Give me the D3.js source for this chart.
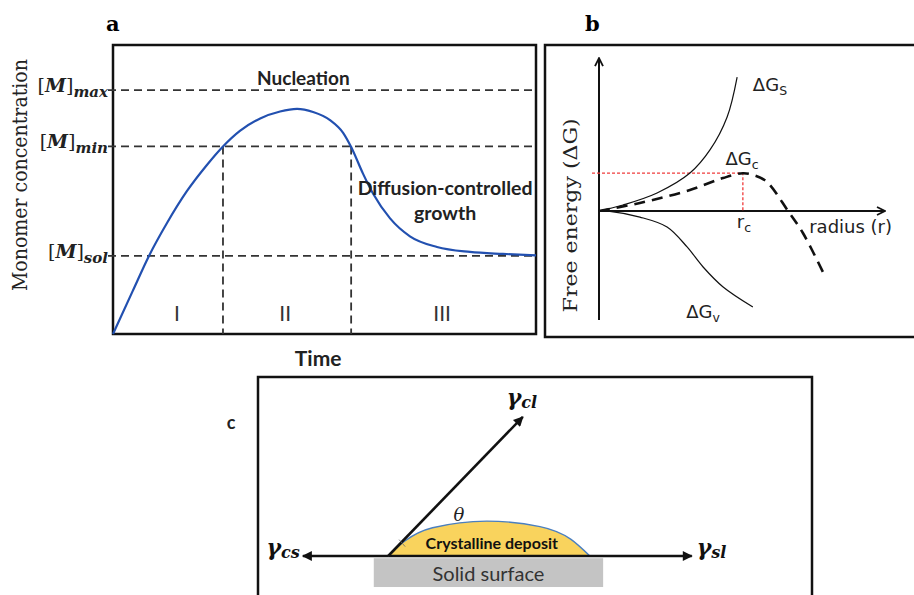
<!DOCTYPE html>
<html>
<head>
<meta charset="utf-8">
<script src="https://cdn.jsdelivr.net/npm/d3@7"></script>
<style>
body { margin: 0; background: #fff; }
svg { display: block; }
</style>
</head>
<body>
<svg width="914" height="595"></svg>
<script>
// --- panel a : monomer concentration vs time ---
var timeVals = [0, 4.7, 8.5, 12.8, 17.5, 22.2, 26.0, 30.0, 34.8, 39.5, 43.5, 47.3, 51.3, 54.4, 56.3, 59.1, 61.5, 65.5, 70.2, 76.6, 84.4, 92.2, 100]
var concVals = [0, 15.0, 27.0, 38.5, 49.5, 58.5, 64.9, 70.3, 74.6, 77.0, 77.9, 76.8, 74.0, 69.6, 64.7, 55.5, 48.5, 40.0, 33.8, 30.1, 28.4, 27.7, 27.2]
var levelNames = ['max', 'min', 'sol']
var levelVals = [84.4, 64.9, 27.0]
var stageEdges = [26.0, 56.3]
var stageNames = ['I', 'II', 'III']
var stageMids = [15.1, 40.7, 77.8]

// --- panel b : free energy vs radius ---
var rS = [0, 8.4, 20.3, 31.8, 38.8, 44.8, 48.3]
var gS = [0, 5.5, 16.4, 34.5, 55.5, 85.5, 121.8]
var rV = [0, 3.8, 14.3, 23.8, 30.8, 36.4, 43.4, 53.8]
var gV = [0, -0.3, -5.5, -14.5, -32.7, -50.9, -69.1, -87.3]
var rC = [0, 14.3, 31.8, 43.4, 50.3, 54.5, 58.7, 66.1, 71.3, 78.3]
var gC = [0, 7.3, 19.1, 30.0, 34.3, 32.3, 26.5, 0, -20, -55.5]
var rCrit = 50.3
var gCrit = 34.5

// --- panel c : contact angle ---
var contactX = 23.5
var vecNames = ['cs', 'sl', 'cl']
var vecTipX = [8.1, 78.3, 47.8]
var vecTipY = [0, 0, 25.1]
var domeX = [23.5, 26.5, 31.5, 41.3, 50.9, 56.5, 59.9]
var domeY = [0, 2.7, 5.1, 6.3, 5.3, 3.0, 0]
var surfaceX = [20.9, 62.3]
var surfaceY = [-0.4, -5.6]

var svg = d3.select('svg')
var ink = '#111'

function font (sel, family, size, weight, style) {
  return sel.attr('font-family', family).attr('font-size', size)
    .attr('font-weight', weight || 'normal').attr('font-style', style || 'normal')
}

var defs = svg.append('defs')
defs.append('marker').attr('id', 'open')
    .attr('viewBox', '0 0 10 10').attr('refX', 9).attr('refY', 5)
    .attr('markerWidth', 10).attr('markerHeight', 10)
    .attr('markerUnits', 'userSpaceOnUse').attr('orient', 'auto')
  .append('path').attr('d', 'M1,1 L9,5 L1,9')
    .attr('fill', 'none').attr('stroke', ink).attr('stroke-width', 1.8)
defs.append('marker').attr('id', 'solid')
    .attr('viewBox', '0 0 10 10').attr('refX', 9).attr('refY', 5)
    .attr('markerWidth', 12).attr('markerHeight', 10)
    .attr('markerUnits', 'userSpaceOnUse').attr('orient', 'auto')
  .append('path').attr('d', 'M0,0 L10,5 L0,10 Z').attr('fill', ink)

// ================= panel a =================
var xA = d3.scaleLinear().domain([0, 100]).range([113, 536])
var yA = d3.scaleLinear().domain([0, 100]).range([334, 45])

var ga = svg.append('g')

font(ga.append('text').attr('x', 106).attr('y', 31).text('a'), 'DejaVu Serif', 21, 'bold')

ga.append('rect').attr('x', xA(0)).attr('y', yA(100))
    .attr('width', xA(100) - xA(0)).attr('height', yA(0) - yA(100))
    .attr('fill', 'none').attr('stroke', ink).attr('stroke-width', 2.5)

levelVals.forEach(function (v, i) {
  ga.append('line')
    .attr('x1', xA(0) - 5).attr('x2', xA(100))
    .attr('y1', yA(v)).attr('y2', yA(v))
    .attr('stroke', '#333').attr('stroke-width', 1.8).attr('stroke-dasharray', '8,5')
  var t = font(ga.append('text').attr('x', xA(0) - 5).attr('y', yA(v) + 2)
      .attr('text-anchor', 'end').attr('fill', '#222'), 'DejaVu Serif', 19)
  t.append('tspan').text('[')
  t.append('tspan').text('M').attr('font-weight', 'bold').attr('font-style', 'italic')
  t.append('tspan').text(']')
  t.append('tspan').text(levelNames[i]).attr('dy', 5)
    .attr('font-size', 15).attr('font-weight', 'bold').attr('font-style', 'italic')
})

stageEdges.forEach(function (t) {
  ga.append('line')
    .attr('x1', xA(t)).attr('x2', xA(t))
    .attr('y1', yA(levelVals[1])).attr('y2', yA(0))
    .attr('stroke', '#333').attr('stroke-width', 1.8).attr('stroke-dasharray', '8,5')
})

stageNames.forEach(function (s, i) {
  font(ga.append('text').attr('x', xA(stageMids[i])).attr('y', yA(7.3) + 8)
    .attr('text-anchor', 'middle').text(s).attr('fill', '#333'), 'Lato', 21)
})

var lineA = d3.line()
  .x(function (d, i) { return xA(timeVals[i]) })
  .y(function (d) { return yA(d) })
  .curve(d3.curveMonotoneX)

ga.append('path').datum(concVals).attr('d', lineA)
  .attr('fill', 'none').attr('stroke', '#2250b0').attr('stroke-width', 2.2)

font(ga.append('text').attr('x', xA(45)).attr('y', yA(88.5) + 7)
  .attr('text-anchor', 'middle').text('Nucleation').attr('fill', '#222'), 'Lato', 19, 'bold')
font(ga.append('text').attr('x', xA(78.5)).attr('y', yA(50.5) + 7)
  .attr('text-anchor', 'middle').text('Diffusion-controlled').attr('fill', '#222'), 'Lato', 19.5, 'bold')
font(ga.append('text').attr('x', xA(78.5)).attr('y', yA(41.7) + 7)
  .attr('text-anchor', 'middle').text('growth').attr('fill', '#222'), 'Lato', 19.5, 'bold')

font(ga.append('text').attr('x', xA(48.5)).attr('y', 366)
  .attr('text-anchor', 'middle').text('Time').attr('fill', '#222'), 'Lato', 21, 'bold')

font(ga.append('text')
  .attr('transform', 'translate(27,' + yA(55) + ') rotate(-90)')
  .attr('text-anchor', 'middle').text('Monomer concentration')
  .attr('textLength', 232).attr('lengthAdjust', 'spacingAndGlyphs')
  .attr('fill', '#222'), 'DejaVu Serif', 20)

// ================= panel b =================
var xB = d3.scaleLinear().domain([0, 100]).range([599, 885])
var yB = d3.scaleLinear().domain([-100, 100]).range([321, 101])

var gb = svg.append('g')

font(gb.append('text').attr('x', 585).attr('y', 31).text('b'), 'DejaVu Serif', 21, 'bold')

gb.append('rect').attr('x', 545).attr('y', 45).attr('width', 400).attr('height', 292)
  .attr('fill', 'none').attr('stroke', ink).attr('stroke-width', 2.5)

gb.append('line').attr('x1', xB(0)).attr('x2', xB(0))
  .attr('y1', yB(-99)).attr('y2', yB(139))
  .attr('stroke', ink).attr('stroke-width', 2).attr('marker-end', 'url(#open)')
gb.append('line').attr('x1', xB(0)).attr('x2', xB(100))
  .attr('y1', yB(0)).attr('y2', yB(0))
  .attr('stroke', ink).attr('stroke-width', 2).attr('marker-end', 'url(#open)')

// critical point guides
gb.append('path')
  .attr('d', 'M' + (xB(0) - 7) + ',' + yB(gCrit) + 'H' + xB(rCrit) + 'V' + yB(0))
  .attr('fill', 'none').attr('stroke', '#f03c3c').attr('stroke-width', 1.3)
  .attr('stroke-dasharray', '3,2')

function lineB (rs) {
  return d3.line()
    .x(function (d, i) { return xB(rs[i]) })
    .y(function (d) { return yB(d) })
    .curve(d3.curveCatmullRom.alpha(0.5))
}

gb.append('path').datum(gS).attr('d', lineB(rS))
  .attr('fill', 'none').attr('stroke', ink).attr('stroke-width', 1.2)
gb.append('path').datum(gV).attr('d', lineB(rV))
  .attr('fill', 'none').attr('stroke', ink).attr('stroke-width', 1.2)
gb.append('path').datum(gC).attr('d', lineB(rC))
  .attr('fill', 'none').attr('stroke', ink).attr('stroke-width', 2.6)
  .attr('stroke-dasharray', '11,7')

function dgLabel (x, y, sub) {
  var t = font(gb.append('text').attr('x', x).attr('y', y).attr('fill', '#222'), 'DejaVu Sans', 18)
  t.append('tspan').text('ΔG')
  t.append('tspan').text(sub).attr('dy', 4).attr('font-size', 12.5)
}
dgLabel(xB(53.8), yB(109), 'S')
dgLabel(xB(44.2), yB(41.5), 'c')
dgLabel(xB(30.5), yB(-97), 'v')

var rcT = font(gb.append('text').attr('x', xB(rCrit) - 6).attr('y', yB(-15.5)).attr('fill', '#222'), 'DejaVu Sans', 18)
rcT.append('tspan').text('r')
rcT.append('tspan').text('c').attr('dy', 4).attr('font-size', 12.5)

font(gb.append('text').attr('x', xB(73.5)).attr('y', yB(-20))
  .text('radius (r)').attr('fill', '#222'), 'DejaVu Sans', 18)

font(gb.append('text')
  .attr('transform', 'translate(577,' + yB(-4) + ') rotate(-90)')
  .attr('text-anchor', 'middle').text('Free energy (ΔG)')
  .attr('textLength', 194).attr('lengthAdjust', 'spacingAndGlyphs')
  .attr('fill', '#222'), 'DejaVu Serif', 19)

// ================= panel c =================
var xC = d3.scaleLinear().domain([0, 100]).range([258, 812])
var yC = d3.scaleLinear().domain([0, 100]).range([556, 2])

var gc = svg.append('g')

font(gc.append('text').attr('x', 231).attr('y', 429).attr('text-anchor', 'middle').text('c')
  .attr('fill', '#222'), 'Lato', 18, 'bold')

gc.append('rect').attr('x', xC(0)).attr('y', 377).attr('width', xC(100) - xC(0)).attr('height', 300)
  .attr('fill', 'none').attr('stroke', ink).attr('stroke-width', 2.5)

gc.append('rect').attr('x', xC(surfaceX[0])).attr('y', yC(surfaceY[0]))
  .attr('width', xC(surfaceX[1]) - xC(surfaceX[0]))
  .attr('height', yC(surfaceY[1]) - yC(surfaceY[0]))
  .attr('fill', '#c4c4c4')
font(gc.append('text').attr('x', xC((surfaceX[0] + surfaceX[1]) / 2)).attr('y', yC(surfaceY[1]) - 6)
  .attr('text-anchor', 'middle').text('Solid surface').attr('fill', '#333'), 'Lato', 20)

var dome = d3.line()
  .x(function (d, i) { return xC(domeX[i]) })
  .y(function (d) { return yC(d) })
  .curve(d3.curveMonotoneX)
gc.append('path').datum(domeY).attr('d', dome(domeY) + 'Z')
  .attr('fill', '#f9d35d').attr('stroke', '#4a7fc0').attr('stroke-width', 1.4)
font(gc.append('text').attr('x', xC(42.2)).attr('y', yC(1.35))
  .attr('text-anchor', 'middle').text('Crystalline deposit').attr('fill', '#111'), 'Lato', 16, 'bold')

// force vectors
vecNames.forEach(function (n, i) {
  gc.append('line')
    .attr('x1', xC(contactX)).attr('y1', yC(0))
    .attr('x2', xC(vecTipX[i])).attr('y2', yC(vecTipY[i]))
    .attr('stroke', ink).attr('stroke-width', 2.6).attr('marker-end', 'url(#solid)')
})

// small angle tick
var ang = Math.atan2(vecTipY[2], vecTipX[2] - contactX)
gc.append('line')
  .attr('x1', xC(contactX) + 20 * Math.cos(ang) - 3).attr('y1', yC(0) - 20 * Math.sin(ang) - 2)
  .attr('x2', xC(contactX) + 23 * Math.cos(ang) + 1).attr('y2', yC(0) - 20 * Math.sin(ang) + 5)
  .attr('stroke', '#6a6a6a').attr('stroke-width', 0.8)

function gammaLabel (x, y, sub, anchor) {
  var t = font(gc.append('text').attr('x', x).attr('y', y).attr('text-anchor', anchor)
    .attr('fill', '#111'), 'DejaVu Serif', 22, 'bold', 'italic')
  t.append('tspan').text('γ')
  t.append('tspan').text(sub).attr('dy', 3).attr('font-size', 16)
}
gammaLabel(xC(vecTipX[0]) - 3, yC(0) - 1, 'cs', 'end')
gammaLabel(xC(vecTipX[1]) + 5, yC(0) - 1, 'sl', 'start')
gammaLabel(xC(vecTipX[2]) - 1, yC(vecTipY[2]) - 12, 'cl', 'middle')

font(gc.append('text').attr('x', xC(35.3)).attr('y', yC(6.4))
  .text('θ').attr('fill', '#222'), 'DejaVu Serif', 18, 'normal', 'italic')
</script>
</body>
</html>
